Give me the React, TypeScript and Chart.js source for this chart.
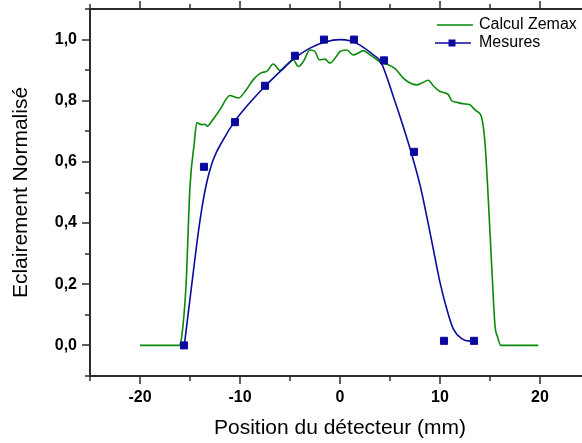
import React, { useEffect, useRef } from 'react';
import { Chart, registerables } from 'chart.js';

Chart.register(...registerables);

// ---- Data ----
const seriesNames = ['Calcul Zemax', 'Mesures'];

const zemaxX = [
  -20, -16.1, -15.83, -15.4, -15.0, -14.57, -14.33, -13.83, -13.5, -13.27, -12.83, -12.0,
  -11.0, -10.6, -10.17, -9.33, -8.67, -7.83, -7.33, -6.67, -6.0, -5.33, -4.67, -4.17,
  -3.67, -3.0, -2.5, -2.07, -1.5, -1.0, -0.5, 0.0, 0.67, 1.33, 1.83, 2.33, 3.0, 3.5,
  4.17, 4.83, 5.5, 6.33, 7.0, 7.67, 8.17, 8.83, 9.33, 10.0, 10.83, 11.17, 11.67, 12.33,
  13.0, 13.33, 13.67, 14.17, 14.5, 14.83, 15.17, 15.5, 15.77, 16.07, 19.83,
];
const zemaxY = [
  0, 0, 0.028, 0.195, 0.52, 0.662, 0.728, 0.722, 0.723, 0.717, 0.733, 0.771,
  0.817, 0.813, 0.809, 0.838, 0.869, 0.892, 0.896, 0.92, 0.899, 0.918, 0.934, 0.912,
  0.928, 0.966, 0.961, 0.934, 0.936, 0.923, 0.939, 0.961, 0.966, 0.95, 0.956, 0.964, 0.95, 0.939,
  0.923, 0.918, 0.905, 0.874, 0.858, 0.852, 0.858, 0.867, 0.849, 0.83, 0.82, 0.8, 0.795, 0.79,
  0.787, 0.776, 0.766, 0.744, 0.662, 0.478, 0.26, 0.065, 0.027, 0, 0,
];

const mesuresX = [-15.6, -13.6, -10.5, -7.5, -4.5, -1.6, 1.4, 4.4, 7.4, 10.4, 13.4];
const mesuresY = [0.0, 0.584, 0.73, 0.849, 0.947, 1.0, 1.0, 0.932, 0.633, 0.015, 0.015];

const fitX = [
  -15.57, -15.0, -14.33, -13.83, -13.33, -12.67, -11.67, -10.57, -9.33, -7.83, -6.0, -4.5,
  -3.0, -1.5, 0.0, 1.0, 2.0, 3.33, 4.07, 5.33, 6.33, 7.17, 8.0, 8.67, 9.33, 10.0,
  10.67, 11.33, 12.17, 13.0, 13.43,
];
const fitY = [
  0.0, 0.152, 0.33, 0.445, 0.532, 0.608, 0.673, 0.731, 0.782, 0.836, 0.895, 0.94,
  0.972, 0.992, 1.0, 0.996, 0.982, 0.95, 0.928, 0.814, 0.715, 0.625, 0.525, 0.423, 0.315, 0.206,
  0.12, 0.054, 0.022, 0.014, 0.015,
];

const xMajorTicks = [-20, -10, 0, 10, 20];
const xMinorTicks = [-25, -15, -5, 5, 15, 25];
const yMajorTicks = [0, 0.2, 0.4, 0.6, 0.8, 1.0];
const yMinorTicks = [-0.1, 0.1, 0.3, 0.5, 0.7, 0.9, 1.1];

const GREEN = '#0a8a0a';
const BLUE = '#0a0a9e';
const AXIS = '#2b2b2b';
const FONT = '"Liberation Sans", Arial, sans-serif';

const zip = (xs: number[], ys: number[]) => xs.map((x, i) => ({ x, y: ys[i] }));

const axesPlugin = {
  id: 'axesBox',
  afterDatasetsDraw(chart: any) {
    const { ctx, chartArea: a, scales } = chart;
    const x = scales.x;
    const y = scales.y;
    ctx.save();
    ctx.strokeStyle = AXIS;
    ctx.lineWidth = 2;
    ctx.lineCap = 'butt';
    ctx.beginPath();
    ctx.moveTo(a.left, a.top);
    ctx.lineTo(a.left, a.bottom);
    ctx.moveTo(a.left - 1, a.bottom);
    ctx.lineTo(a.right + 1, a.bottom);
    ctx.moveTo(a.left - 1, a.top);
    ctx.lineTo(a.right + 1, a.top);
    ctx.moveTo(a.right, a.top);
    ctx.lineTo(a.right, a.bottom);
    ctx.stroke();

    ctx.lineWidth = 1.5;
    ctx.beginPath();
    const xTick = (v: number, len: number) => {
      const px = Math.round(x.getPixelForValue(v));
      ctx.moveTo(px, a.bottom);
      ctx.lineTo(px, a.bottom + len);
      ctx.moveTo(px, a.top);
      ctx.lineTo(px, a.top - len);
    };
    const yTick = (v: number, len: number) => {
      const py = Math.round(y.getPixelForValue(v));
      ctx.moveTo(a.left, py);
      ctx.lineTo(a.left - len, py);
      ctx.moveTo(a.right, py);
      ctx.lineTo(a.right + len, py);
    };
    xMajorTicks.forEach((v) => xTick(v, 8));
    xMinorTicks.forEach((v) => xTick(v, 5));
    yMajorTicks.forEach((v) => yTick(v, 8));
    yMinorTicks.forEach((v) => yTick(v, 5));
    ctx.stroke();
    ctx.restore();
  },
  afterDraw(chart: any) {
    const { ctx } = chart;
    ctx.save();
    ctx.font = `16px ${FONT}`;
    ctx.fillStyle = '#000';
    ctx.textAlign = 'left';
    ctx.textBaseline = 'middle';
    // Calcul Zemax
    ctx.strokeStyle = GREEN;
    ctx.lineWidth = 1.5;
    ctx.beginPath();
    ctx.moveTo(437, 25);
    ctx.lineTo(473, 25);
    ctx.stroke();
    ctx.fillText(seriesNames[0], 479, 25);
    // Mesures
    ctx.strokeStyle = BLUE;
    ctx.beginPath();
    ctx.moveTo(435, 43);
    ctx.lineTo(471, 43);
    ctx.stroke();
    ctx.fillStyle = BLUE;
    ctx.fillRect(452 - 3.5, 43 - 3.5, 7, 7);
    ctx.fillStyle = '#000';
    ctx.fillText(seriesNames[1], 479, 43);
    ctx.restore();
  },
};

export default function App() {
  const ref = useRef<HTMLCanvasElement | null>(null);

  useEffect(() => {
    if (!ref.current) return;
    const chart = new Chart(ref.current, {
      type: 'scatter',
      data: {
        datasets: [
          {
            label: seriesNames[1],
            data: zip(mesuresX, mesuresY),
            showLine: false,
            pointStyle: 'rect',
            pointRadius: 5,
            pointBorderWidth: 1,
            pointBackgroundColor: BLUE,
            pointBorderColor: BLUE,
            borderColor: BLUE,
            backgroundColor: BLUE,
          },
          {
            label: seriesNames[1] + ' (fit)',
            data: zip(fitX, fitY),
            showLine: true,
            pointRadius: 0,
            borderColor: BLUE,
            borderWidth: 1.6,
            cubicInterpolationMode: 'monotone',
          },
          {
            label: seriesNames[0],
            data: zip(zemaxX, zemaxY),
            showLine: true,
            pointRadius: 0,
            borderColor: GREEN,
            borderWidth: 1.6,
            cubicInterpolationMode: 'monotone',
          },
        ],
      } as any,
      options: {
        animation: false,
        responsive: false,
        devicePixelRatio: 1,
        layout: { padding: { left: 0, right: 10, top: 9, bottom: 0 } },
        plugins: {
          legend: { display: false },
          tooltip: { enabled: false },
        },
        scales: {
          x: {
            type: 'linear',
            position: 'bottom',
            min: -25,
            max: 25,
            grid: { display: false, drawTicks: false },
            border: { display: false },
            afterBuildTicks: (s: any) => {
              s.ticks = xMajorTicks.map((v) => ({ value: v }));
            },
            afterFit: (s: any) => {
              s.height = 67;
              s.paddingLeft = 0;
              s.paddingRight = 0;
            },
            ticks: {
              autoSkip: false,
              maxRotation: 0,
              padding: 12,
              color: '#000',
              font: { family: FONT, size: 16, weight: 'bold' },
              callback: (v: any) => String(v),
            },
            title: {
              display: true,
              text: 'Position du détecteur (mm)',
              color: '#000',
              font: { family: FONT, size: 21 },
              padding: { top: 0, bottom: 2 },
            },
          },
          y: {
            type: 'linear',
            position: 'left',
            min: -0.1,
            max: 1.1,
            grid: { display: false, drawTicks: false },
            border: { display: false },
            afterBuildTicks: (s: any) => {
              s.ticks = yMajorTicks.map((v) => ({ value: v }));
            },
            afterFit: (s: any) => {
              s.width = 90;
              s.paddingTop = 0;
              s.paddingBottom = 0;
            },
            ticks: {
              padding: 13,
              color: '#000',
              font: { family: FONT, size: 16, weight: 'bold' },
              callback: (v: any) => Number(v).toFixed(1).replace('.', ','),
            },
            title: {
              display: true,
              text: 'Eclairement Normalisé',
              color: '#000',
              font: { family: FONT, size: 21 },
              padding: { top: 9, bottom: 0 },
            },
          },
        },
      } as any,
      plugins: [axesPlugin],
    });
    return () => chart.destroy();
  }, []);

  return (
    <div
      style={{
        position: 'absolute',
        left: 0,
        top: 0,
        width: 582,
        height: 443,
        overflow: 'hidden',
        background: '#fff',
      }}
    >
      <canvas ref={ref} width={600} height={443} style={{ width: 600, height: 443, display: 'block' }} />
    </div>
  );
}
